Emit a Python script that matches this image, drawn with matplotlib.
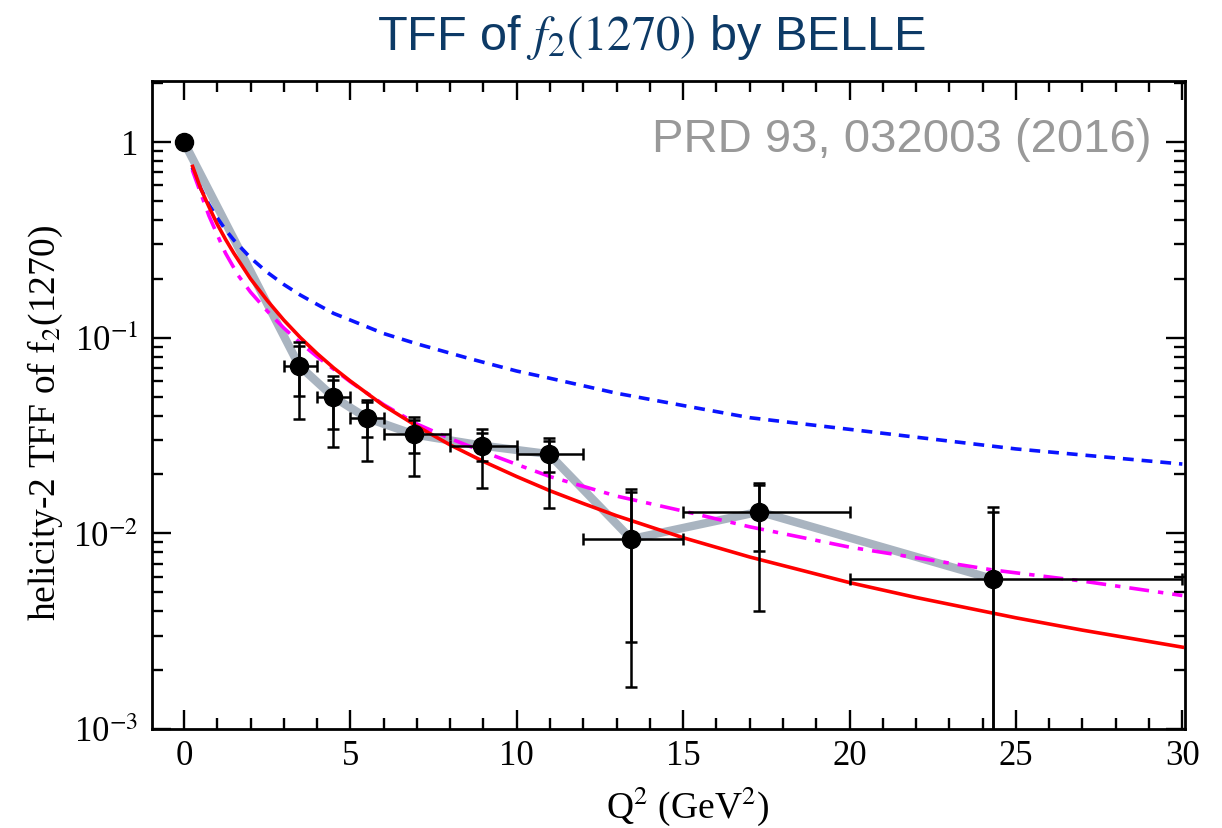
import matplotlib
matplotlib.use("Agg")
import matplotlib.pyplot as plt
from matplotlib.ticker import FixedLocator, FixedFormatter, MultipleLocator, NullFormatter

plt.rcParams['font.family'] = ['Liberation Serif', 'DejaVu Serif']
plt.rcParams['mathtext.fontset'] = 'stix'

# BELLE helicity-2 TFF of f2(1270); first point is the Q^2 = 0 normalisation
q2 = [0.0, 3.46, 4.49, 5.49, 6.92, 8.95, 10.97, 13.44, 17.29, 24.3]
tff = [1.0, 0.072, 0.0498, 0.0389, 0.032, 0.0281, 0.0254, 0.00935, 0.0129, 0.00585]
bin_lo = [0, 3, 4, 5, 6, 8, 10, 12, 15, 20]
bin_hi = [0, 4, 5, 6, 8, 10, 12, 15, 20, 30]
# inner (statistical) and outer (total) error bar ends
stat_top = [1.0, 0.091, 0.0605, 0.0471, 0.0381, 0.0324, 0.0296, 0.0163, 0.0176, 0.0129]
stat_bot = [1.0, 0.0506, 0.0343, 0.0311, 0.0258, 0.0235, 0.0206, 0.00277, 0.00812, 0.0004]
tot_top = [1.0, 0.095, 0.0638, 0.0483, 0.0394, 0.034, 0.0308, 0.01683, 0.01806, 0.01368]
tot_bot = [1.0, 0.0382, 0.0277, 0.0235, 0.0197, 0.0171, 0.0134, 0.00163, 0.00401, 0.0003]

# model curves
q2_m1 = [0.25, 0.5, 0.75, 1, 1.25, 1.5, 2, 2.5, 3, 3.5, 4, 4.5, 5, 6, 7, 8.6, 10,
         11, 13, 15, 17, 20, 25, 30]
tff_m1 = [0.74, 0.58, 0.479, 0.41, 0.356, 0.315, 0.256, 0.216, 0.187, 0.165, 0.148,
          0.133, 0.123, 0.105, 0.093, 0.078, 0.0675, 0.062, 0.052, 0.045, 0.039,
          0.034, 0.027, 0.0226]
q2_m2 = [0.26, 0.5, 0.75, 1, 1.25, 1.5, 2, 2.5, 3, 3.5, 4, 4.5, 5, 6, 7, 8, 9, 10,
         11, 12, 13, 15, 17, 20, 22, 25, 27, 30]
tff_m2 = [0.75, 0.58, 0.467, 0.38, 0.318, 0.27, 0.20, 0.155, 0.123, 0.100, 0.083,
          0.070, 0.060, 0.045, 0.0353, 0.0283, 0.0233, 0.0195, 0.0165, 0.0142,
          0.0123, 0.0095, 0.00757, 0.0056, 0.0047, 0.0037, 0.0032, 0.00262]
q2_m3 = [0.25, 0.5, 0.75, 1.08, 1.25, 1.63, 2, 2.5, 3, 3.5, 4, 5, 6, 7, 8, 9, 10,
         11, 13, 15, 17, 20, 22, 24.3, 27, 30]
tff_m3 = [0.72, 0.55, 0.42, 0.313, 0.27, 0.208, 0.171, 0.137, 0.112, 0.094, 0.080,
          0.0595, 0.0455, 0.0362, 0.0305, 0.0261, 0.0225, 0.0195, 0.0155, 0.0130,
          0.0108, 0.0085, 0.0075, 0.0065, 0.0057, 0.00481]

fig = plt.figure(figsize=(12.22, 8.29), dpi=100)
ax = fig.add_axes([152 / 1222, 1 - 730 / 829, 1033 / 1222, 648 / 829])

# grey band joining the data points
ax.plot(q2, tff, color='#a9b4c0', lw=6, solid_joinstyle='round', zorder=1)

ax.plot(q2_m1, tff_m1, color='#0a14ff', lw=2.6, dashes=(3, 2.2), zorder=2)
ax.plot(q2_m3, tff_m3, color='#ff00ff', lw=2.6, dashes=(5.5, 2.5, 1.5, 2.5), zorder=2)
ax.plot(q2_m2, tff_m2, color='#ff0000', lw=2.6, zorder=3)

# measured points with total and statistical error bars
x = q2[1:]
y = tff[1:]
xerr = [[q - lo for q, lo in zip(x, bin_lo[1:])], [hi - q for q, hi in zip(x, bin_hi[1:])]]
tot_err = [[v - b for v, b in zip(y, tot_bot[1:])], [t - v for v, t in zip(y, tot_top[1:])]]
stat_err = [[v - b for v, b in zip(y, stat_bot[1:])], [t - v for v, t in zip(y, stat_top[1:])]]
ax.errorbar(x, y, xerr=xerr, yerr=tot_err, fmt='none', ecolor='black',
            elinewidth=1.8, capsize=4, capthick=1.8, zorder=4)
ax.errorbar(x, y, yerr=stat_err, fmt='none', ecolor='black',
            elinewidth=1.8, capsize=4, capthick=1.8, zorder=4)
ax.plot(q2, tff, 'o', color='black', ms=13, zorder=5)

ax.set_yscale('log')
ax.set_xlim(-0.96, 30.08)
ax.set_ylim(1e-3, 2.05)

ax.xaxis.set_major_locator(MultipleLocator(5))
ax.xaxis.set_minor_locator(MultipleLocator(1))
ax.yaxis.set_major_locator(FixedLocator([1e-3, 1e-2, 1e-1, 1]))
ax.yaxis.set_major_formatter(FixedFormatter(['10$^{-3}$', '10$^{-2}$', '10$^{-1}$', '1']))
minors = [m * 10.0 ** e for e in (-3, -2, -1, 0) for m in range(2, 10)]
ax.yaxis.set_minor_locator(FixedLocator(minors))
ax.yaxis.set_minor_formatter(NullFormatter())

ax.tick_params(which='both', direction='in', top=True, right=True, width=1.7)
ax.tick_params(which='major', length=14)
ax.tick_params(which='minor', length=8)
ax.tick_params(axis='x', labelsize=25, pad=7)
ax.tick_params(axis='y', labelsize=25, pad=10)
for s in ax.spines.values():
    s.set_linewidth(2)

fig.text(45 / 1222, 1 - 423 / 829, 'helicity-2 TFF of f$_2$(1270)', rotation=90,
         ha='center', va='center', fontsize=27)
fig.text(688 / 1222, 1 - 806 / 829, 'Q$^2$ (GeV$^2$)', ha='center', va='center', fontsize=27)

fig.text(651 / 1222, 1 - 37 / 829, 'TFF of $f_2(1270)$ by BELLE', ha='center', va='center',
         fontsize=35, color='#0d3a66', family='Liberation Sans')
ax.text(0.968, 0.8924, 'PRD 93, 032003 (2016)', transform=ax.transAxes, ha='right',
        va='baseline', fontsize=34, color='#999999', family='Liberation Sans')

fig.savefig('out.png', dpi=100)
